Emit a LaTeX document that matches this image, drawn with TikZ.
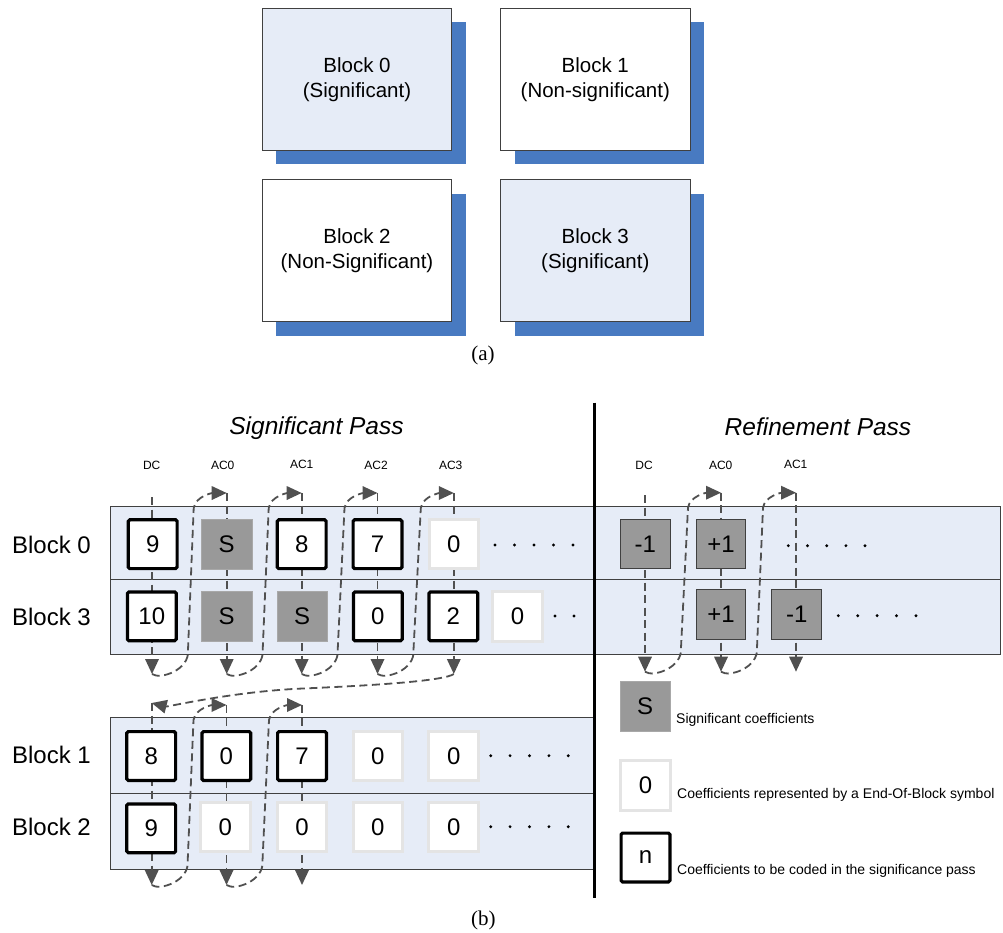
\documentclass[tikz,border=0pt]{standalone}
\usepackage{fontspec}
\setmainfont{Liberation Sans}
\newfontfamily\capfont{Liberation Serif}
\usetikzlibrary{arrows.meta,shadows,calc}

\definecolor{paleblue}{RGB}{230,236,247}
\definecolor{shadowblue}{RGB}{72,122,193}
\definecolor{edgegray}{RGB}{64,64,64}
\definecolor{arrowgray}{RGB}{80,80,80}
\definecolor{siggray}{RGB}{153,153,153}
\definecolor{eobgray}{RGB}{228,228,228}

\tikzset{
  blockbox/.style={rectangle, draw=edgegray, line width=1pt, minimum width=189.6pt,
    minimum height=142pt, inner sep=0pt, align=center,
    font=\fontsize{20.5}{25}\selectfont,
    drop shadow={shadow xshift=14pt, shadow yshift=-14pt, opacity=1, fill=shadowblue}},
  band/.style={fill=paleblue, draw=edgegray, line width=0.9pt},
  coded/.style={rectangle, draw=black, fill=white, line width=3.2pt, rounded corners=1.5pt,
    minimum size=48.8pt, inner sep=0pt, font=\fontsize{24}{28}\selectfont},
  eob/.style={rectangle, draw=eobgray, fill=white, line width=3pt,
    minimum size=49.5pt, inner sep=0pt, font=\fontsize{24}{28}\selectfont},
  sigsq/.style={rectangle, fill=siggray, draw=siggray!85!white, line width=0.6pt,
    minimum size=50.4pt, inner sep=0pt, font=\fontsize{24}{28}\selectfont},
  refsq/.style={rectangle, fill=siggray, draw=edgegray, line width=0.9pt,
    minimum size=49.6pt, inner sep=0pt, font=\fontsize{24}{28}\selectfont},
  rowlabel/.style={font=\fontsize{24}{28}\selectfont, inner sep=0pt},
  collabel/.style={font=\fontsize{12}{14}\selectfont, inner sep=0pt},
  passtitle/.style={font=\fontsize{24.5}{28}\selectfont\itshape, inner sep=0pt},
  legendtext/.style={font=\fontsize{14}{16}\selectfont, anchor=west, inner sep=0pt},
  caption/.style={font=\capfont\fontsize{21}{24}\selectfont, inner sep=0pt},
  link/.style={draw=arrowgray, line width=1.8pt, dash pattern=on 8pt off 4.5pt,
    -{Triangle[length=15pt,width=13.5pt]}},
}

% scan link: from the foot of one column up to the head of the next one
\newcommand{\linkhop}[2]{%
  \draw[link] (#1) .. controls +(8,6) and +(2,20) .. ($(#1)+(36,-24)$)
    -- ($(#2)+(-33,15)$) .. controls +(2,-12) and +(-14,0) .. (#2);}

\begin{document}
\begin{tikzpicture}[x=1pt,y=-1pt]
\useasboundingbox (0,0) rectangle (1003,932);

% ---------- (a) block classification ----------
\node[blockbox, fill=paleblue] (blk0) at (357,79.2)    {Block 0\\(Significant)};
\node[blockbox, fill=white]    (blk1) at (595.3,79.2)  {Block 1\\(Non-significant)};
\node[blockbox, fill=white]    (blk2) at (357,250.8)   {Block 2\\(Non-Significant)};
\node[blockbox, fill=paleblue] (blk3) at (595.3,250.8) {Block 3\\(Significant)};
\node[caption] (capa) at (483,355) {(a)};

% ---------- (b) coding passes ----------
% block bands
\draw[band] (110,506) rectangle (1000,654);
\draw[edgegray, line width=0.9pt] (110,579.5) -- (1000,579.5);
\draw[band] (110,717) rectangle (594,869);
\draw[edgegray, line width=0.9pt] (110,793.5) -- (594,793.5);

% pass separator
\draw[line width=3.3pt] (594.7,402.7) -- (594.7,898);

% titles and column labels
\node[passtitle] (tsig) at (316.5,428) {Significant Pass};
\node[passtitle] (tref) at (818,427) {Refinement Pass};
\node[collabel] (lsdc)  at (151.7,465) {DC};
\node[collabel] (lsac0) at (222.7,465) {AC0};
\node[collabel] (lsac1) at (301.7,464) {AC1};
\node[collabel] (lsac2) at (376,465)   {AC2};
\node[collabel] (lsac3) at (450.7,465) {AC3};
\node[collabel] (lrdc)  at (644,465)   {DC};
\node[collabel] (lrac0) at (720.7,465) {AC0};
\node[collabel] (lrac1) at (795.7,464) {AC1};

% row labels
\node[rowlabel] (rb0) at (51.5,545)   {Block 0};
\node[rowlabel] (rb3) at (51.5,616.7) {Block 3};
\node[rowlabel] (rb1) at (51.5,755)   {Block 1};
\node[rowlabel] (rb2) at (51.5,826.7) {Block 2};

% column heads and feet of the scan
\coordinate (u0t) at (152,497);   \coordinate (u0b) at (152,674);
\coordinate (u1t) at (226.7,493); \coordinate (u1b) at (226.7,674);
\coordinate (u2t) at (301.7,493); \coordinate (u2b) at (301.7,674);
\coordinate (u3t) at (377.5,493); \coordinate (u3b) at (377.5,674);
\coordinate (u4t) at (453.8,493); \coordinate (u4b) at (453.8,674);
\coordinate (l0t) at (151.7,703); \coordinate (l0b) at (151.7,885);
\coordinate (l1t) at (226.5,705); \coordinate (l1b) at (226.5,885);
\coordinate (l2t) at (302,705);   \coordinate (l2b) at (302,885);
\coordinate (r0t) at (645,495);   \coordinate (r0b) at (645,671.7);
\coordinate (r1t) at (721,492.7); \coordinate (r1b) at (721,671.7);
\coordinate (r2t) at (796,492.7); \coordinate (r2b) at (796,671.7);

% scan order, significance pass
\foreach \c in {u0,u1,u2,u3,u4,l0,l1,l2,r0,r1,r2}
  \draw[link] (\c t) -- (\c b);
\linkhop{u0b}{u1t}
\linkhop{u1b}{u2t}
\linkhop{u2b}{u3t}
\linkhop{u3b}{u4t}
\draw[link] (u4b) .. controls +(-10,7) and +(70,-3) .. ($(u4b)!0.5!(l0t)$)
  .. controls +(-70,3) and +(16,4) .. (l0t);
\linkhop{l0b}{l1t}
\linkhop{l1b}{l2t}
% scan order, refinement pass
\linkhop{r0b}{r1t}
\linkhop{r1b}{r2t}

% Block 0 / Block 3 coefficients
\node[coded] (a0) at (152.7,544.2) {9};
\node[sigsq] (a1) at (226.7,544.2) {S};
\node[coded] (a2) at (301.7,544.2) {8};
\node[coded] (a3) at (377.5,544.2) {7};
\node[eob]   (a4) at (453.8,544.2) {0};
\foreach \x in {495,514.5,534,553.5,573} \fill (\x,545) circle (1.6pt);

\node[coded] (b0) at (151.8,616.3) {10};
\node[sigsq] (b1) at (226.7,616.3) {S};
\node[sigsq] (b2) at (302.2,616.3) {S};
\node[coded] (b3) at (377.8,616.3) {0};
\node[coded] (b4) at (453.3,616.3) {2};
\node[eob]   (b5) at (517.5,616.3) {0};
\foreach \x in {555,574} \fill (\x,616) circle (1.6pt);

% Block 1 / Block 2 coefficients
\node[coded] (c0) at (151.2,756) {8};
\node[coded] (c1) at (226.3,756) {0};
\node[coded] (c2) at (302,756)   {7};
\node[eob]   (c3) at (377.8,756) {0};
\node[eob]   (c4) at (453.7,756) {0};
\foreach \x in {490.7,510.1,529.5,548.9,568.3} \fill (\x,755.7) circle (1.6pt);

\node[coded] (d0) at (151.2,828.3) {9};
\node[eob]   (d1) at (225.3,827)   {0};
\node[eob]   (d2) at (302,827)     {0};
\node[eob]   (d3) at (377.8,827)   {0};
\node[eob]   (d4) at (453.7,827)   {0};
\foreach \x in {490.7,510.1,529.5,548.9,568.3} \fill (\x,826.7) circle (1.6pt);

% refinement pass
\node[refsq] (e0) at (645.3,544) {-1};
\node[refsq] (e1) at (721,544)   {+1};
\foreach \x in {788.3,807.5,826.7,845.9,865} \fill (\x,545.7) circle (1.6pt);
\node[refsq] (f1) at (721,614.3)   {+1};
\node[refsq] (f2) at (796.7,614.3) {-1};
\foreach \x in {838.3,857.7,877.1,896.5,916} \fill (\x,615.7) circle (1.6pt);

% legend
\node[sigsq] (k0) at (645.2,706.5) {S};
\node[legendtext] (k0t) at (676,720) {Significant coefficients};
\node[eob] (k1) at (645.5,785.5) {0};
\node[legendtext] (k1t) at (677,795) {Coefficients represented by a End-Of-Block symbol};
\node[coded] (k2) at (645.5,857.5) {n};
\node[legendtext] (k2t) at (677,871) {Coefficients to be coded in the significance pass};

\node[caption] (capb) at (483.3,920) {(b)};
\end{tikzpicture}
\end{document}
